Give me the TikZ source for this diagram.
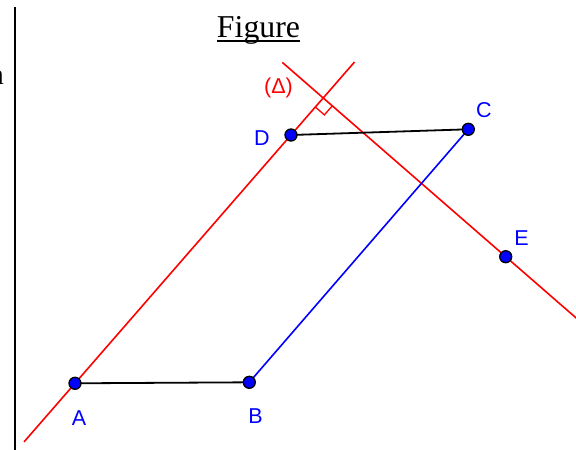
\documentclass[tikz,border=0pt]{standalone}
\usepackage{fontspec}
\setmainfont{Liberation Serif}
\newfontfamily\labfont{Liberation Sans}
\usetikzlibrary{calc}
\definecolor{gred}{RGB}{255,0,0}
\definecolor{gblue}{RGB}{0,0,255}
\tikzset{
  redline/.style={draw=gred,line width=1.6pt},
  seg/.style={draw=black,line width=1.8pt},
  blueseg/.style={draw=gblue,line width=1.6pt},
  pt/.style={circle,fill=gblue,draw=black,line width=1.3pt,minimum size=12pt,inner sep=0pt},
  lab/.style={font=\labfont\fontsize{21.5}{21.5}\selectfont,text=gblue,inner sep=0pt,anchor=base},
}
\begin{document}
\begin{tikzpicture}[x=1pt,y=-1pt]
\useasboundingbox (0,0) rectangle (576,450);
% frame line and clipped text
\draw[line width=2pt] (15,7) -- (15,450);
\node[font=\fontsize{29}{29}\selectfont,anchor=base east,inner sep=0pt] (nn) at (4,84) {n};
% title
\node[font=\fontsize{31.8}{32}\selectfont,anchor=base,inner sep=0pt] (title) at (258.5,37) {Figure};
\draw[line width=1.8pt] ($(title.base west)+(0,3.6)$) -- ($(title.base east)+(0,3.6)$);
% points
\coordinate (A) at (75,383.3);
\coordinate (B) at (249.3,382.3);
\coordinate (C) at (468.3,129.3);
\coordinate (D) at (291,135);
\coordinate (E) at (505.7,256.7);
\coordinate (F) at ($(A)!(E)!(D)$);
% red lines
\coordinate (L1a) at ($(A)!-0.236!(D)$);
\coordinate (L1b) at ($(A)!1.294!(D)$);
\coordinate (L2a) at ($(F)!-0.224!(E)$);
\coordinate (L2b) at ($(F)!1.40!(E)$);
\draw[redline] (L1a) -- (L1b);
\draw[redline] (L2a) -- (L2b);
% right angle mark
\coordinate (R1) at ($(F)!12pt!(D)$);
\coordinate (R2) at ($(F)!12pt!(E)$);
\coordinate (R3) at ($(R1)+(R2)-(F)$);
\draw[draw=gred,line width=1.3pt] (R1) -- (R3) -- (R2);
% segments
\draw[seg] (A) -- (B);
\draw[seg] (D) -- (C);
\draw[blueseg] (B) -- (C);
% dots
\node[pt] (pA) at (A) {};
\node[pt] (pB) at (B) {};
\node[pt] (pC) at (C) {};
\node[pt] (pD) at (D) {};
\node[pt] (pE) at (E) {};
% labels
\node[lab] (lA) at (79,425) {A};
\node[lab] (lB) at (255.5,423) {B};
\node[lab] (lC) at (484,117) {C};
\node[lab] (lD) at (262,145) {D};
\node[lab] (lE) at (521.5,245) {E};
\node[lab,text=gred] (lDelta) at (278.5,93) {(Δ)};
\end{tikzpicture}
\end{document}
